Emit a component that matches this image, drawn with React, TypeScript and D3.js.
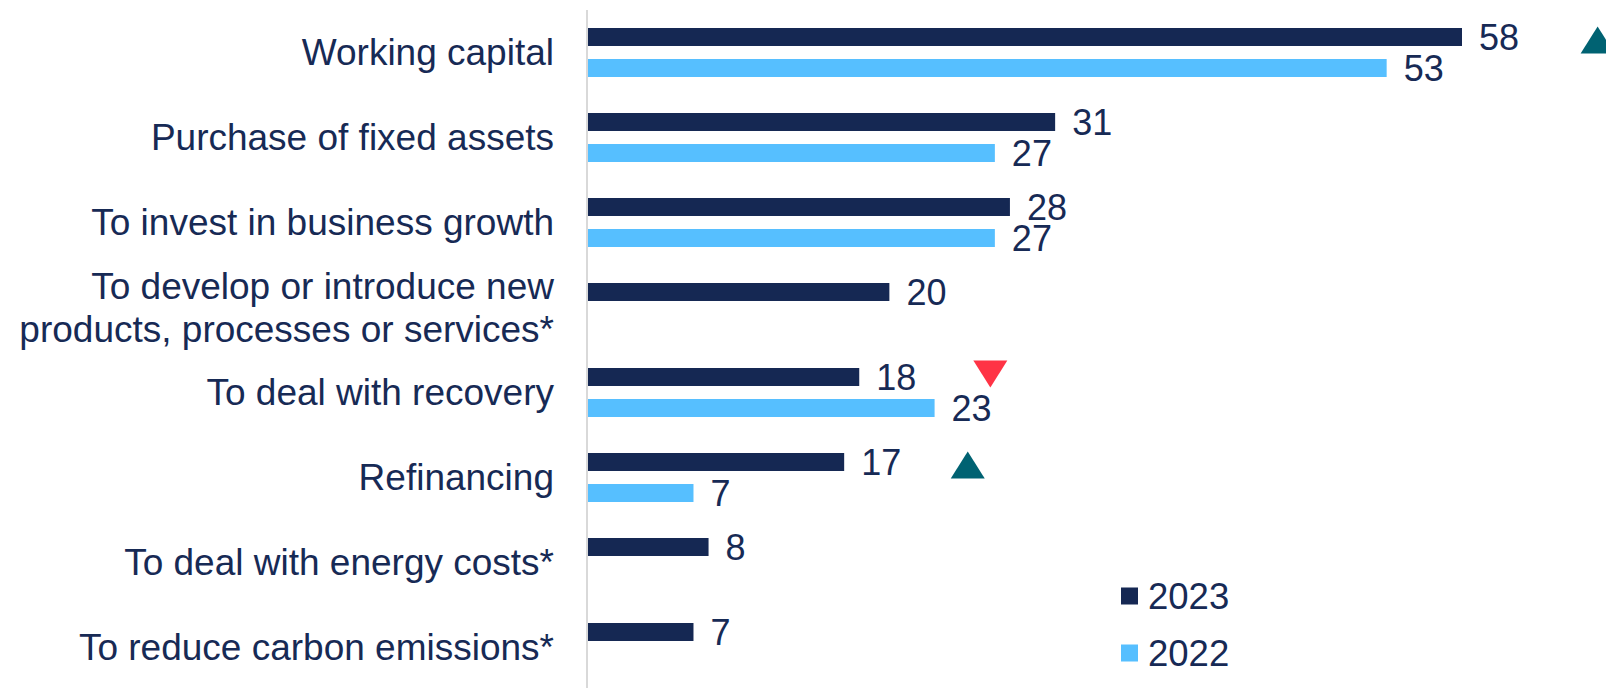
import { useRef, useEffect } from "react";
import * as d3 from "d3";

const categories = [
  "Working capital",
  "Purchase of fixed assets",
  "To invest in business growth",
  "To develop or introduce new\nproducts, processes or services*",
  "To deal with recovery",
  "Refinancing",
  "To deal with energy costs*",
  "To reduce carbon emissions*",
];
const seriesNames = ["2023", "2022"];
const values2023 = [58, 31, 28, 20, 18, 17, 8, 7];
const values2022: (number | null)[] = [53, 27, 27, null, 23, 7, null, null];
// change markers: row index, direction, position along the value axis
const markers = [
  { row: 0, dir: "up", at: 67 },
  { row: 4, dir: "down", at: 26.7 },
  { row: 5, dir: "up", at: 25.2 },
];

const W = 1606;
const H = 688;
const FONT = "'Liberation Sans', Arial, sans-serif";
const TEXT = "#172a55";
const colors: Record<string, string> = { "2023": "#152853", "2022": "#56bfff" };

export default function App() {
  const svgRef = useRef<SVGSVGElement>(null);

  useEffect(() => {
    if (!svgRef.current) return;
    const svg = d3.select(svgRef.current);
    svg.selectAll("*").remove();

    const x = d3.scaleLinear().domain([0, 58]).range([588, 1462]);
    const y = d3.scaleBand<number>().domain(d3.range(categories.length)).range([10, 690]);
    const ySub = d3
      .scaleBand<string>()
      .domain(seriesNames)
      .range([y.bandwidth() / 2 - 24.5, y.bandwidth() / 2 + 24.5])
      .paddingInner(0.42);

    // axis line
    svg.append("line")
      .attr("x1", 587).attr("x2", 587)
      .attr("y1", 10).attr("y2", H)
      .attr("stroke", "#d9d9d9").attr("stroke-width", 2);

    // category labels
    categories.forEach((c, i) => {
      const lines = c.split("\n");
      const cy = (y(i) as number) + y.bandwidth() / 2;
      const lh = 43;
      const t = svg.append("text")
        .attr("text-anchor", "end")
        .attr("font-family", FONT)
        .attr("font-size", 37)
        .attr("fill", TEXT);
      lines.forEach((l, k) => {
        t.append("tspan")
          .attr("x", 554)
          .attr("y", cy + (k - (lines.length - 1) / 2) * lh)
          .attr("dy", "0.35em")
          .text(l);
      });
    });

    const rows = categories.map((c, i) => ({
      i,
      vals: [
        { s: "2023", v: values2023[i] },
        { s: "2022", v: values2022[i] },
      ].filter((d) => d.v != null) as { s: string; v: number }[],
    }));

    const g = svg.selectAll("g.row")
      .data(rows)
      .join("g")
      .attr("class", "row")
      .attr("transform", (d) => `translate(0,${y(d.i)})`);

    g.selectAll("rect")
      .data((d) => d.vals)
      .join("rect")
      .attr("x", x(0))
      .attr("y", (d) => ySub(d.s) as number)
      .attr("width", (d) => x(d.v) - x(0))
      .attr("height", ySub.bandwidth())
      .attr("fill", (d) => colors[d.s]);

    g.selectAll("text.val")
      .data((d) => d.vals)
      .join("text")
      .attr("class", "val")
      .attr("x", (d) => x(d.v) + 17)
      .attr("y", (d) => (ySub(d.s) as number) + ySub.bandwidth() / 2)
      .attr("dy", "0.35em")
      .attr("font-family", FONT)
      .attr("font-size", 36)
      .attr("fill", TEXT)
      .text((d) => d.v);

    // change markers
    const tw = 34, th = 27;
    svg.selectAll("path.marker")
      .data(markers)
      .join("path")
      .attr("class", "marker")
      .attr("d", (m) => {
        const cx = x(m.at);
        const cy = (y(m.row) as number) + (ySub("2023") as number) + ySub.bandwidth() / 2 + (m.dir === "up" ? 3 : -3);
        const top = cy - th / 2, bot = cy + th / 2;
        return m.dir === "up"
          ? `M${cx - tw / 2},${bot}L${cx + tw / 2},${bot}L${cx},${top}Z`
          : `M${cx - tw / 2},${top}L${cx + tw / 2},${top}L${cx},${bot}Z`;
      })
      .attr("fill", (m) => (m.dir === "up" ? "#006272" : "#ff3345"));

    // legend
    const lg = svg.selectAll("g.legend")
      .data(seriesNames)
      .join("g")
      .attr("class", "legend")
      .attr("transform", (d, i) => `translate(1121,${596 + i * 57})`);
    lg.append("rect")
      .attr("x", 0).attr("y", -8.5)
      .attr("width", 17).attr("height", 17)
      .attr("fill", (d) => colors[d]);
    lg.append("text")
      .attr("x", 27).attr("y", 0).attr("dy", "0.35em")
      .attr("font-family", FONT).attr("font-size", 36.5)
      .attr("fill", TEXT)
      .text((d) => d);
  }, []);

  return (
    <svg
      ref={svgRef}
      width={W}
      height={H}
      style={{ position: "absolute", left: 0, top: 0, background: "#fff" }}
    />
  );
}
